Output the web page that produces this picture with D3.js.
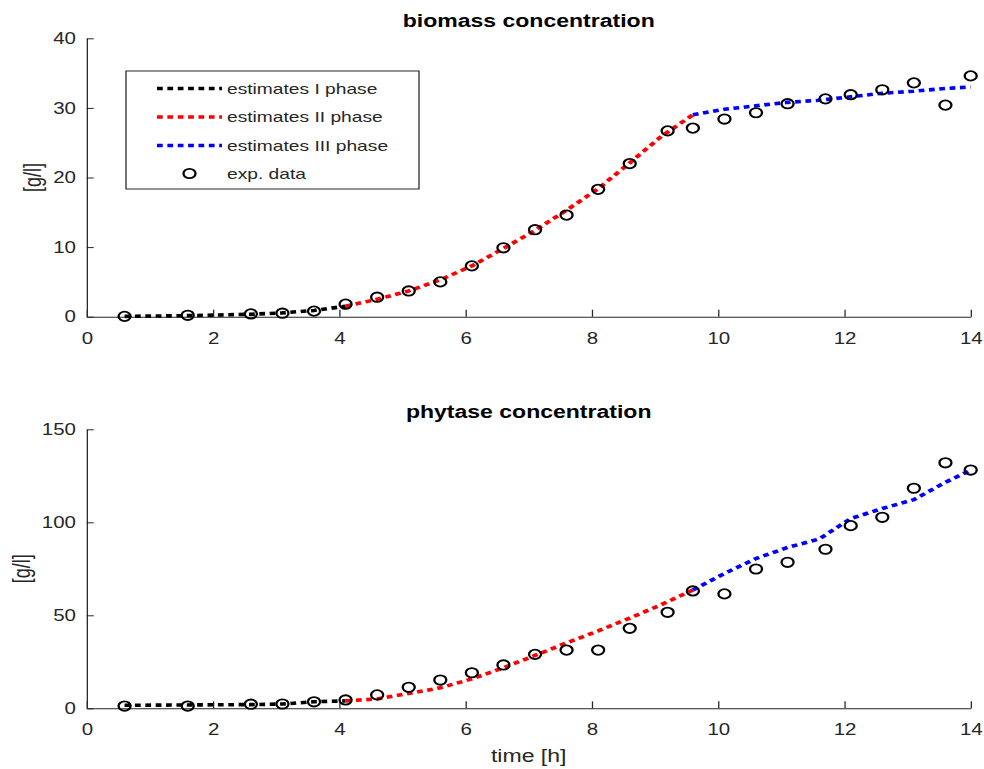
<!DOCTYPE html>
<html>
<head>
<meta charset="utf-8">
<script src="https://cdn.jsdelivr.net/npm/d3@7"></script>
<style>
  html, body { margin: 0; padding: 0; background: #fff; }
  svg { display: block; font-family: "Liberation Sans", Arial, sans-serif; }
</style>
</head>
<body>
<div id="chart"></div>
<script>
// measured data
const timeData = [0.6, 1.6, 2.6, 3.1, 3.6, 4.1, 4.6, 5.1, 5.6, 6.1, 6.6, 7.1, 7.6, 8.1, 8.6, 9.2, 9.6, 10.1, 10.6, 11.1, 11.7, 12.1, 12.6, 13.1, 13.6, 14.0];
const biomassData = [0.05, 0.2, 0.4, 0.5, 0.8, 1.8, 2.8, 3.7, 5.0, 7.3, 9.9, 12.5, 14.6, 18.3, 22.0, 26.7, 27.1, 28.4, 29.3, 30.6, 31.3, 31.9, 32.6, 33.6, 30.4, 34.6];
const phytaseData = [1.2, 1.2, 2.2, 2.3, 3.5, 4.5, 7.2, 11.3, 15.2, 19.1, 23.3, 29.0, 31.3, 31.3, 43.0, 51.6, 63.1, 61.5, 74.9, 78.5, 85.5, 98.2, 102.7, 118.3, 132.0, 128.1];

// model estimates, one grid per phase
const timePhaseI = [0.6, 1.1, 1.6, 2.1, 2.6, 3.1, 3.6, 4.1];
const timePhaseII = [4.1, 4.6, 5.1, 5.6, 6.1, 6.6, 7.1, 7.6, 8.1, 8.6, 9.1, 9.6];
const timePhaseIII = [9.6, 10.1, 10.6, 11.1, 11.6, 12.1, 12.6, 13.1, 13.6, 14.0];

const biomassEstI = [0.05, 0.1, 0.15, 0.25, 0.35, 0.55, 0.9, 1.5];
const biomassEstII = [1.5, 2.5, 3.7, 5.3, 7.3, 9.8, 12.4, 15.3, 18.4, 22.1, 25.9, 29.0];
const biomassEstIII = [29.0, 29.8, 30.3, 30.8, 31.1, 31.6, 32.1, 32.4, 32.8, 33.0];

const phytaseEstI = [1.6, 1.7, 1.8, 1.9, 2.0, 2.3, 3.5, 4.0];
const phytaseEstII = [4.0, 5.0, 8.0, 11.0, 15.8, 21.8, 28.4, 35.2, 41.6, 48.5, 55.7, 63.6];
const phytaseEstIII = [63.6, 72.5, 80.5, 86.5, 91.0, 102.0, 107.4, 112.2, 121.5, 128.0];

const xTicks = [0, 2, 4, 6, 8, 10, 12, 14];
const biomassTicks = [0, 10, 20, 30, 40];
const phytaseTicks = [0, 50, 100, 150];

const legendLabels = ['estimates I phase', 'estimates II phase', 'estimates III phase', 'exp. data'];
const phaseColors = ['#000000', '#ff0000', '#0000ff'];

// the picture is stretched sideways, so draw in a narrower box and stretch it
const W = 984, H = 769, S = 1.28;
const innerW = W / S;
const axisColor = '#262626';
const dash = '4.5,3.6';

const svg = d3.select('#chart')
    .append('svg')
    .attr('width', W)
    .attr('height', H)
    .attr('viewBox', `0 0 ${innerW} ${H}`)
    .attr('preserveAspectRatio', 'none');

const x = d3.scaleLinear().domain([0, 14]).range([86.7 / S, 970.7 / S]);

const panels = [
    {
        title: 'biomass concentration',
        domain: [0, 40], range: [316.7, 38.3], ticks: biomassTicks,
        data: biomassData,
        est: [biomassEstI, biomassEstII, biomassEstIII],
        legend: true, xLabel: false
    },
    {
        title: 'phytase concentration',
        domain: [0, 150], range: [708.3, 429.3], ticks: phytaseTicks,
        data: phytaseData,
        est: [phytaseEstI, phytaseEstII, phytaseEstIII],
        legend: false, xLabel: true
    }
];

const phaseTimes = [timePhaseI, timePhaseII, timePhaseIII];

panels.forEach(p => {
    const y = d3.scaleLinear().domain(p.domain).range(p.range);
    const g = svg.append('g');

    // x axis, ticks pointing inward
    const gx = g.append('g')
        .attr('transform', `translate(0,${p.range[0]})`)
        .call(d3.axisBottom(x).tickValues(xTicks).tickSize(-7).tickSizeOuter(0).tickPadding(15.5).tickFormat(d3.format('d')));

    const gy = g.append('g')
        .attr('transform', `translate(${x.range()[0]},0)`)
        .call(d3.axisLeft(y).tickValues(p.ticks).tickSize(-5.5).tickSizeOuter(0).tickPadding(8.4).tickFormat(d3.format('d')));

    [gx, gy].forEach(a => {
        a.attr('color', axisColor).attr('font-size', 16).attr('font-family', null);
        a.select('.domain').attr('stroke-width', 1);
        a.selectAll('.tick line').attr('stroke-width', 1);
        a.selectAll('.tick text').attr('fill', axisColor);
    });

    // title
    g.append('text')
        .attr('x', (x.range()[0] + x.range()[1]) / 2)
        .attr('y', p.range[1] - 11)
        .attr('text-anchor', 'middle')
        .attr('font-size', 18)
        .attr('font-weight', 'bold')
        .attr('fill', '#000')
        .text(p.title);

    // y label, placed left of the tick labels
    const bb = gy.node().getBBox();
    const labelX = x.range()[0] + bb.x - 15.5;
    g.append('text')
        .attr('transform', `translate(${labelX},${(p.range[0] + p.range[1]) / 2}) rotate(-90)`)
        .attr('text-anchor', 'middle')
        .attr('dy', '0.35em')
        .attr('font-size', 18)
        .attr('fill', axisColor)
        .text('[g/l]');

    if (p.xLabel) {
        g.append('text')
            .attr('x', (x.range()[0] + x.range()[1]) / 2)
            .attr('y', 762)
            .attr('text-anchor', 'middle')
            .attr('font-size', 18)
            .attr('fill', axisColor)
            .text('time [h]');
    }

    // estimate lines per phase
    const line = d3.line().x(d => x(d[0])).y(d => y(d[1]));
    p.est.forEach((vals, i) => {
        const pts = phaseTimes[i].map((t, j) => [t, vals[j]]);
        g.append('path')
            .datum(pts)
            .attr('d', line)
            .attr('fill', 'none')
            .attr('stroke', phaseColors[i])
            .attr('stroke-width', 3.6)
            .attr('stroke-dasharray', dash);
    });

    // experimental points
    g.selectAll('circle.exp')
        .data(timeData.map((t, j) => [t, p.data[j]]))
        .enter()
        .append('circle')
        .attr('class', 'exp')
        .attr('cx', d => x(d[0]))
        .attr('cy', d => y(d[1]))
        .attr('r', 4.7)
        .attr('fill', 'none')
        .attr('stroke', '#000')
        .attr('stroke-width', 1.8);

    if (p.legend) {
        const lg = g.append('g');
        lg.append('rect')
            .attr('x', 126 / S).attr('y', 71)
            .attr('width', (419 - 126) / S).attr('height', 118)
            .attr('fill', '#fff')
            .attr('stroke', axisColor)
            .attr('stroke-width', 1);
        const rowY = [88.5, 117, 145.5, 173.5];
        const x0 = 157 / S, x1 = 222 / S, tx = 227 / S;
        legendLabels.forEach((lab, i) => {
            if (i < 3) {
                lg.append('line')
                    .attr('x1', x0).attr('x2', x1)
                    .attr('y1', rowY[i]).attr('y2', rowY[i])
                    .attr('stroke', phaseColors[i])
                    .attr('stroke-width', 3.6)
                    .attr('stroke-dasharray', dash);
            } else {
                lg.append('circle')
                    .attr('cx', (x0 + x1) / 2).attr('cy', rowY[i])
                    .attr('r', 4.7)
                    .attr('fill', 'none')
                    .attr('stroke', '#000')
                    .attr('stroke-width', 1.8);
            }
            lg.append('text')
                .attr('x', tx).attr('y', rowY[i])
                .attr('dy', '0.35em')
                .attr('font-size', 15)
                .attr('fill', axisColor)
                .text(lab);
        });
    }
});
</script>
</body>
</html>
